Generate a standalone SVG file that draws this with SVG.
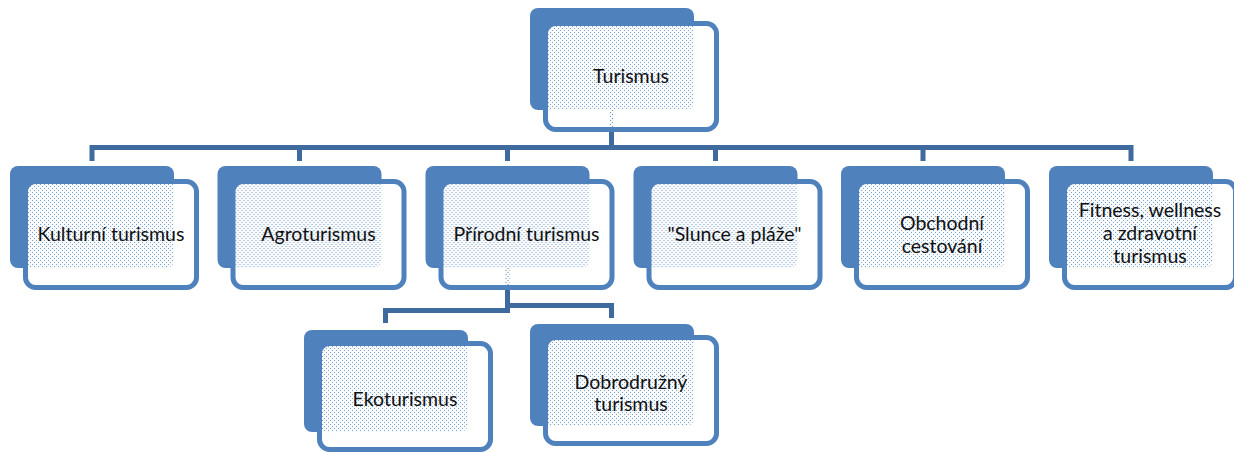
<svg xmlns="http://www.w3.org/2000/svg" width="1234" height="452" viewBox="0 0 1234 452">
  <defs>
    <pattern id="dots" width="4" height="4" patternUnits="userSpaceOnUse">
      <path d="M0 0H4V4H0Z M0 0H1V1H0Z M2 2H3V3H2Z" fill="#ffffff" fill-opacity="0.96" fill-rule="evenodd"/>
      <path d="M0 0H1V1H0Z M2 2H3V3H2Z" fill="#ffffff" fill-opacity="0.25"/>
    </pattern>
  </defs>
  <style>
    .back { fill: #4F81BD; }
    .front { fill: url(#dots); stroke: #4F81BD; stroke-width: 5; }
    .conn { fill: none; stroke: #3E6A9E; stroke-width: 5; stroke-linejoin: miter; }
    .lbl { font-family: Lato, "Liberation Sans", sans-serif; font-size: 19.5px; fill: #111111; text-anchor: middle; }
  </style>
  <rect width="1234" height="452" fill="#ffffff"/>
  <g id="connectors">
    <path class="conn" d="M611.5 110 V147.5 H92 V161"/>
    <path class="conn" d="M611.5 110 V147.5 H1131 V161"/>
    <path class="conn" d="M299.5 147.5 V161"/>
    <path class="conn" d="M507.5 147.5 V161"/>
    <path class="conn" d="M715.5 147.5 V161"/>
    <path class="conn" d="M923 147.5 V161"/>
    <path class="conn" d="M507.5 268 V310.5 H385.5 V323"/>
    <path class="conn" d="M507.5 268 V305.5 H611.5 V318"/>
  </g>
  <g id="node-turismus" transform="translate(530,8)">
    <rect class="back" width="164" height="102" rx="8"/>
    <rect class="front" x="15.5" y="15.5" width="171" height="106" rx="10"/>
    <text class="lbl" x="101" y="75">Turismus</text>
  </g>
  <g id="node-kulturni" transform="translate(10,166)">
    <rect class="back" width="164" height="102" rx="8"/>
    <rect class="front" x="15.5" y="15.5" width="171" height="106" rx="10"/>
    <text class="lbl" x="101" y="75">Kulturní turismus</text>
  </g>
  <g id="node-agro" transform="translate(217.5,166)">
    <rect class="back" width="164" height="102" rx="8"/>
    <rect class="front" x="15.5" y="15.5" width="171" height="106" rx="10"/>
    <text class="lbl" x="101" y="75">Agroturismus</text>
  </g>
  <g id="node-prirodni" transform="translate(425.5,166)">
    <rect class="back" width="164" height="102" rx="8"/>
    <rect class="front" x="15.5" y="15.5" width="171" height="106" rx="10"/>
    <text class="lbl" x="101" y="75">Přírodní turismus</text>
  </g>
  <g id="node-slunce" transform="translate(633.5,166)">
    <rect class="back" width="164" height="102" rx="8"/>
    <rect class="front" x="15.5" y="15.5" width="171" height="106" rx="10"/>
    <text class="lbl" x="101" y="75">"Slunce a pláže"</text>
  </g>
  <g id="node-obchodni" transform="translate(841,166)">
    <rect class="back" width="164" height="102" rx="8"/>
    <rect class="front" x="15.5" y="15.5" width="171" height="106" rx="10"/>
    <text class="lbl" x="101" y="64">Obchodní</text>
    <text class="lbl" x="101" y="87">cestování</text>
  </g>
  <g id="node-fitness" transform="translate(1049,166)">
    <rect class="back" width="164" height="102" rx="8"/>
    <rect class="front" x="15.5" y="15.5" width="171" height="106" rx="10"/>
    <text class="lbl" x="101" y="51">Fitness, wellness</text>
    <text class="lbl" x="101" y="74">a zdravotní</text>
    <text class="lbl" x="101" y="97">turismus</text>
  </g>
  <g id="node-ekoturismus" transform="translate(304,330)">
    <rect class="back" width="164" height="102" rx="8"/>
    <rect class="front" x="15.5" y="13.5" width="171" height="106" rx="10"/>
    <text class="lbl" x="101" y="76">Ekoturismus</text>
  </g>
  <g id="node-dobrodruzny" transform="translate(530,324)">
    <rect class="back" width="164" height="102" rx="8"/>
    <rect class="front" x="15.5" y="13.5" width="171" height="106" rx="10"/>
    <text class="lbl" x="101" y="65">Dobrodružný</text>
    <text class="lbl" x="101" y="87">turismus</text>
  </g>
</svg>
